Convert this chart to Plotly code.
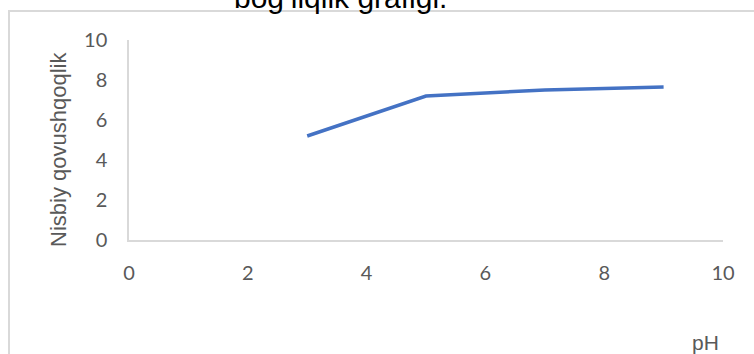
import plotly.graph_objects as go

ph = [3, 5, 7, 9]
viscosity = [5.2, 7.2, 7.5, 7.65]
x_ticks = [0, 2, 4, 6, 8, 10]
y_ticks = [0, 2, 4, 6, 8, 10]
title_text = "bog‘liqlik grafigi."
x_title = "pH"
y_title = "Nisbiy qovushqoqlik"

W, H = 754, 354
ml, mr, mt, mb = 129, 31, 40, 114
pw, ph_ = W - ml - mr, H - mt - mb

def px_to_paper_x(px):
    return (px - ml) / pw

def px_to_paper_y(py):
    return (H - mb - py) / ph_

fig = go.Figure()
fig.add_trace(go.Scatter(x=ph, y=viscosity, mode="lines",
                         line=dict(color="#4472C4", width=3.5),
                         hoverinfo="skip", showlegend=False))

tick_font = dict(family="Lato", size=20, color="#595959")
fig.update_layout(
    width=W, height=H,
    margin=dict(l=ml, r=mr, t=mt, b=mb),
    paper_bgcolor="white", plot_bgcolor="white",
    xaxis=dict(range=[0, 10], tickvals=x_ticks, ticktext=[str(v) for v in x_ticks],
               showgrid=False, zeroline=False, showline=True, linecolor="#D9D9D9",
               linewidth=1.5, ticks="", tickfont=tick_font, ticklabelstandoff=14),
    yaxis=dict(range=[0, 10], tickvals=y_ticks, ticktext=[str(v) for v in y_ticks],
               showgrid=False, zeroline=False, showline=True, linecolor="#D9D9D9",
               linewidth=1.5, ticks="", tickfont=tick_font, ticklabelstandoff=16),
)

# outer chart-area border
fig.add_shape(type="rect", xref="paper", yref="paper",
              x0=px_to_paper_x(9), x1=px_to_paper_x(W + 20),
              y0=px_to_paper_y(H + 20), y1=px_to_paper_y(11),
              line=dict(color="#D9D9D9", width=2), layer="below")

fig.add_annotation(text=title_text, xref="paper", yref="paper",
                   x=px_to_paper_x(340), y=px_to_paper_y(16),
                   xanchor="center", yanchor="bottom", showarrow=False,
                   font=dict(family="Liberation Sans", size=30, color="#000000"))
fig.add_annotation(text=y_title, xref="paper", yref="paper", textangle=-90,
                   x=px_to_paper_x(58), y=px_to_paper_y(150),
                   xanchor="center", yanchor="middle", showarrow=False,
                   font=dict(family="Liberation Sans", size=22, color="#595959"))
fig.add_annotation(text=x_title, xref="paper", yref="paper",
                   x=px_to_paper_x(705), y=px_to_paper_y(342),
                   xanchor="center", yanchor="middle", showarrow=False,
                   font=dict(family="Liberation Sans", size=21, color="#595959"))

fig.write_html("out.html")
